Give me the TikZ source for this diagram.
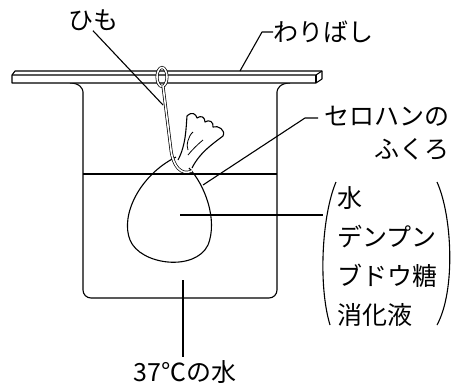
\documentclass[tikz,border=0pt]{standalone}
\usepackage{fontspec}
\newfontfamily\jp{Noto Sans CJK JP}
\usetikzlibrary{positioning}

\tikzset{
  line/.style={line width=1.1pt, line join=round},
  cord/.style={double, double distance=1.6pt, line width=0.7pt},
  lbl/.style={font=\jp\fontsize{25}{29}\selectfont, inner sep=0pt},
}

\begin{document}
\begin{tikzpicture}[x=1pt, y=-1pt]
  \useasboundingbox (0,0) rectangle (456,383);

  % beaker
  \draw[line, rounded corners=8pt] (70,83) .. controls (80,83) and (83,89) .. (83,100)
    -- (83,298) -- (277,298) -- (277,100) .. controls (277,89) and (280,83) .. (290,83);
  % water surface
  \draw[line] (83,174) -- (277,174);

  % chopstick
  \draw[line, fill=white] (12,75) -- (15,71) -- (322,71) -- (322,79) -- (316,83) -- (12,83) -- cycle;
  \draw[line] (12,75) -- (316,75) -- (322,71);
  \draw[line] (316,75) -- (316,83);

  % cellophane bag
  \draw[line] (176,157) .. controls (140,175) and (120,215) .. (130,240)
    .. controls (140,265) and (195,272) .. (208,245)
    .. controls (218,220) and (205,185) .. (189,168);
  % tied top of the bag
  \draw[line, fill=white] (178,160) .. controls (186,145) and (186,128) .. (187,116)
    .. controls (192,111) and (196,114) .. (197,118)
    .. controls (201,115) and (205,117) .. (205,122)
    .. controls (209,119) and (214,122) .. (213,127)
    .. controls (218,125) and (226,130) .. (223,136)
    .. controls (214,143) and (200,152) .. (192,168);
  \draw[line width=0.8pt] (193,132) .. controls (188,136) and (186,146) .. (188,150);
  \draw[line width=0.8pt] (203,140) .. controls (197,145) and (192,150) .. (188,155);

  % string
  \draw[cord] (162,77) ellipse (5 and 9.5);
  \draw[cord] (163,86) -- (171,150) .. controls (173,166) and (181,176) .. (192,171);

  % labels
  \node[lbl] (himo) at (93,20) {ひも};
  \node[lbl, anchor=west] (waribashi) at (273,32) {わりばし};
  \node[lbl, anchor=north east, align=right, font=\jp\fontsize{25}{33}\selectfont] (cello) at (450,106) {セロハンの\\ふくろ};
  \node[lbl, anchor=north west, align=left, font=\jp\fontsize{25}{39}\selectfont] (contents) at (337,186) {水\\デンプン\\ブドウ糖\\消化液};
  \node[lbl] (water) at (185,372) {37℃の水};

  % leaders
  \coordinate (onhimo) at (163,105);
  \coordinate (onstick) at (240,71);
  \coordinate (onbag) at (203,185);
  \coordinate (mid) at (180,215);
  \coordinate (paren) at (323,215);
  \coordinate (inbeaker) at (183,280);
  \draw[line] (himo.south) -- (onhimo);
  \draw[line] (onstick) -- (262,32) -- (waribashi.west);
  \draw[line] (onbag) -- (305,118) -- (318,118);
  \draw[line] (mid) -- (paren);
  \draw[line] (inbeaker) -- (183,357);

  % brackets
  \draw[line] (336,182) .. controls (322,215) and (318,285) .. (330,325);
  \draw[line] (437,182) .. controls (452,215) and (456,290) .. (437,325);
\end{tikzpicture}
\end{document}
